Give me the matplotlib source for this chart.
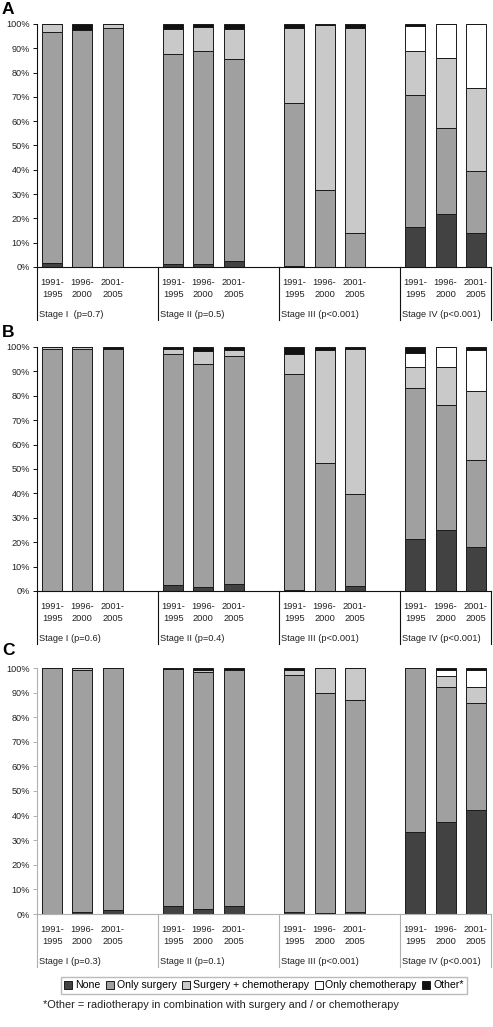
import matplotlib
matplotlib.use('Agg')
import matplotlib.pyplot as plt
from matplotlib.patches import Patch
import numpy as np

plt.rcParams['font.family'] = ['Liberation Sans', 'DejaVu Sans']

W, H = 493, 1027
DPI = 100

# categories
periods = ['1991-\n1995', '1996-\n2000', '2001-\n2005']
stages = ['Stage I', 'Stage II', 'Stage III', 'Stage IV']
series_names = ['None', 'Only surgery', 'Surgery + chemotherapy', 'Only chemotherapy', 'Other*']
colors = ['#424242', '#a0a0a0', '#c9c9c9', '#ffffff', '#111111']

# panel A (percent, 3 periods x 4 stages)
a_pvals = [' (p=0.7)', '(p=0.5)', '(p<0.001)', '(p<0.001)']
a_none = [1.7, 0, 0, 1.4, 1.1, 2.3, 0.4, 0, 0, 16.6, 22.0, 13.8]
a_surgery = [95.2, 97.5, 98.3, 86.4, 87.6, 83.4, 67.0, 31.6, 13.8, 54.2, 35.1, 25.7]
a_surg_chemo = [3.1, 0, 1.7, 10.0, 10.1, 12.3, 30.8, 67.9, 84.5, 17.9, 28.9, 34.1]
a_chemo = [0, 0, 0, 0, 0, 0, 0, 0, 0, 10.3, 14.0, 26.4]
a_other = [0, 2.5, 0, 2.2, 1.2, 2.0, 1.8, 0.5, 1.7, 1.0, 0, 0]

# panel B
b_pvals = ['(p=0.6)', '(p=0.4)', '(p<0.001)', '(p<0.001)']
b_none = [0, 0, 0, 2.3, 1.5, 2.7, 0.5, 0, 2.0, 21.2, 24.9, 18.0]
b_surgery = [99.2, 99.2, 99.2, 94.7, 91.7, 93.5, 88.6, 52.5, 37.8, 62.0, 51.5, 35.6]
b_surg_chemo = [0.8, 0.8, 0, 2.3, 5.2, 2.4, 8.2, 46.4, 59.2, 8.7, 15.3, 28.4]
b_chemo = [0, 0, 0, 0, 0, 0, 0, 0, 0, 5.6, 8.3, 16.9]
b_other = [0, 0, 0.8, 0.7, 1.6, 1.4, 2.7, 1.1, 1.0, 2.5, 0, 1.1]

# panel C
c_pvals = ['(p=0.3)', '(p=0.1)', '(p<0.001)', '(p<0.001)']
c_none = [0, 0.9, 1.8, 3.4, 2.0, 3.4, 0.7, 0.3, 0.7, 33.5, 37.5, 42.4]
c_surgery = [100, 98.1, 98.2, 96.2, 96.2, 95.6, 96.6, 89.4, 86.3, 66.5, 54.8, 43.4]
c_surg_chemo = [0, 1.0, 0, 0, 1.1, 0, 1.7, 10.3, 13.0, 0, 4.6, 6.5]
c_chemo = [0, 0, 0, 0, 0, 0, 0, 0, 0, 0, 2.1, 6.7]
c_other = [0, 0, 0, 0.4, 0.7, 1.0, 1.0, 0, 0, 0, 1.0, 1.0]


def px_axes(fig, left, top, right, bottom):
    return fig.add_axes([left / W, 1 - bottom / H, (right - left) / W, (bottom - top) / H])


def draw_panel(ax, series, pvals, axis_color, stage_gap):
    # one empty slot between stage groups, like the Excel original
    xs = [g * 4 + i for g in range(4) for i in range(3)]
    bottom = np.zeros(len(xs))
    for vals, c in zip(series, colors):
        vals = np.array(vals, dtype=float)
        ax.bar(xs, vals, bottom=bottom, width=0.66, color=c,
               edgecolor='#1a1a1a', linewidth=0.7)
        bottom += vals

    ax.set_xlim(-0.5, 14.5)
    ax.set_ylim(0, 100)
    ax.set_yticks(range(0, 101, 10))
    ax.set_yticklabels([f'{v}%' for v in range(0, 101, 10)])
    ax.tick_params(axis='y', length=3, width=0.7, color=axis_color,
                   labelsize=6.6, labelcolor='#222222', pad=2)
    ax.set_xticks(xs)
    ax.set_xticklabels(periods * 4, fontsize=6.7, color='#222222', linespacing=1.45)
    ax.tick_params(axis='x', length=0, pad=8)
    for s in ['top', 'right']:
        ax.spines[s].set_visible(False)
    for s in ['left', 'bottom']:
        ax.spines[s].set_color(axis_color)
        ax.spines[s].set_linewidth(0.8)

    axh = ax.get_window_extent().height
    trans = ax.get_xaxis_transform()
    for sx in [-0.5, 3.5, 7.5, 11.5, 14.5]:
        ax.plot([sx, sx], [0, -53 / axh], transform=trans, clip_on=False,
                color=axis_color, linewidth=0.8)
    for g in range(4):
        ax.annotate(f'{stages[g]} {pvals[g]}', xy=(g * 4 - 0.5, 0),
                    xycoords=('data', 'axes fraction'),
                    xytext=(1.5, -stage_gap * 0.72), textcoords='offset points',
                    ha='left', va='top', fontsize=6.7, color='#222222')


if __name__ == '__main__':
    fig = plt.figure(figsize=(W / DPI, H / DPI), dpi=DPI)

    panels = [
        ('A', 24, 267, [a_none, a_surgery, a_surg_chemo, a_chemo, a_other], a_pvals, '#111111', 2),
        ('B', 347, 591, [b_none, b_surgery, b_surg_chemo, b_chemo, b_other], b_pvals, '#111111', 325),
        ('C', 668, 914, [c_none, c_surgery, c_surg_chemo, c_chemo, c_other], c_pvals, '#b0b0b0', 643),
    ]
    for letter, top, bottom, series, pvals, axis_color, ltop in panels:
        ax = px_axes(fig, 37, top, 491, bottom)
        draw_panel(ax, series, pvals, axis_color, 43)
        fig.text(2 / W, 1 - ltop / H, letter, fontsize=12.5, fontweight='bold',
                 ha='left', va='top')

    handles = [Patch(facecolor=c, edgecolor='#1a1a1a', linewidth=0.7) for c in colors]
    fig.legend(handles, series_names, loc='center', bbox_to_anchor=(264 / W, 1 - 985.5 / H),
               ncol=5, fontsize=7.6, frameon=True, fancybox=False, edgecolor='#aaaaaa',
               handlelength=0.75, handleheight=0.75, handletextpad=0.25, columnspacing=0.55,
               borderpad=0.3, borderaxespad=0)

    fig.text(43 / W, 1 - 1005 / H, '*Other = radiotherapy in combination with surgery and / or chemotherapy',
             fontsize=7.9, ha='left', va='center', color='#222222')

    fig.savefig('out.png', dpi=DPI)
